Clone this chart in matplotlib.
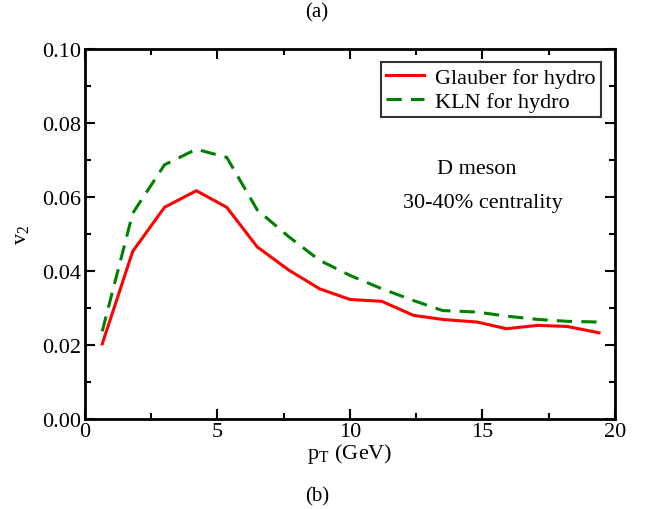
import numpy as np
import matplotlib
matplotlib.use("Agg")
import matplotlib.pyplot as plt
from matplotlib.ticker import MultipleLocator

plt.rcParams["font.family"] = "Liberation Serif"
plt.rcParams["mathtext.fontset"] = "stix"

pt = [0.65, 1.8, 3.0, 4.2, 5.35, 6.5, 7.7, 8.85, 10.0, 11.2, 12.4,
      13.5, 14.8, 15.9, 17.1, 18.2, 19.4]
v2_glauber = [0.0203, 0.0453, 0.0572, 0.0617, 0.0572, 0.0465, 0.0402, 0.0352,
              0.0323, 0.0318, 0.0280, 0.0269, 0.0262, 0.0244, 0.0253, 0.0250,
              0.0233]
v2_kln = [0.0237, 0.0556, 0.0687, 0.0729, 0.0707, 0.0565, 0.0492, 0.0429,
          0.0388, 0.0352, 0.0320, 0.0293, 0.0289, 0.0278, 0.0269, 0.0264,
          0.0262]

fig = plt.figure(figsize=(6.51, 5.10), dpi=100)
ax = fig.add_axes([0.1306, 0.1765, 0.814, 0.7255])

ax.plot(pt, v2_glauber, color="red", lw=2.2, label="Glauber for hydro")
ax.plot(pt, v2_kln, color="green", lw=2.2, dashes=(5, 3), label="KLN for hydro")

ax.set_xlim(0, 20)
ax.set_ylim(0, 0.10)
ax.xaxis.set_major_locator(MultipleLocator(5))
ax.xaxis.set_minor_locator(MultipleLocator(2.5))
ax.yaxis.set_major_locator(MultipleLocator(0.02))
ax.yaxis.set_minor_locator(MultipleLocator(0.01))
ax.yaxis.set_major_formatter(plt.FormatStrFormatter("%.2f"))
ax.tick_params(which="both", direction="in", top=True, right=True, labelsize=16)
ax.tick_params(axis="y", pad=3)
ax.tick_params(axis="x", pad=2)
ax.tick_params(which="major", length=7, width=1.5)
ax.tick_params(which="minor", length=4, width=1.5)
for s in ax.spines.values():
    s.set_linewidth(2)

ax.set_xlabel("p$_\\mathregular{T}$ (GeV)", fontsize=16, labelpad=0)
ax.set_ylabel("v$_\\mathregular{2}$", fontsize=16, labelpad=8)

leg = ax.legend(loc="upper right", fontsize=16, frameon=True, fancybox=False,
                edgecolor="black", handlelength=1.7, handletextpad=0.5,
                borderpad=0.25, labelspacing=0.15, borderaxespad=0,
                bbox_to_anchor=(0.974, 0.965))
leg.get_frame().set_linewidth(1.5)

ax.text(14.8, 0.0676, "D meson", fontsize=16, ha="center", va="center")
ax.text(15.0, 0.0586, "30-40% centrality", fontsize=16, ha="center", va="center")

fig.text(0.487, 0.974, "(a)", fontsize=15, ha="center", va="center")
fig.text(0.487, 0.026, "(b)", fontsize=15, ha="center", va="center")

fig.savefig("out.png", dpi=100)
